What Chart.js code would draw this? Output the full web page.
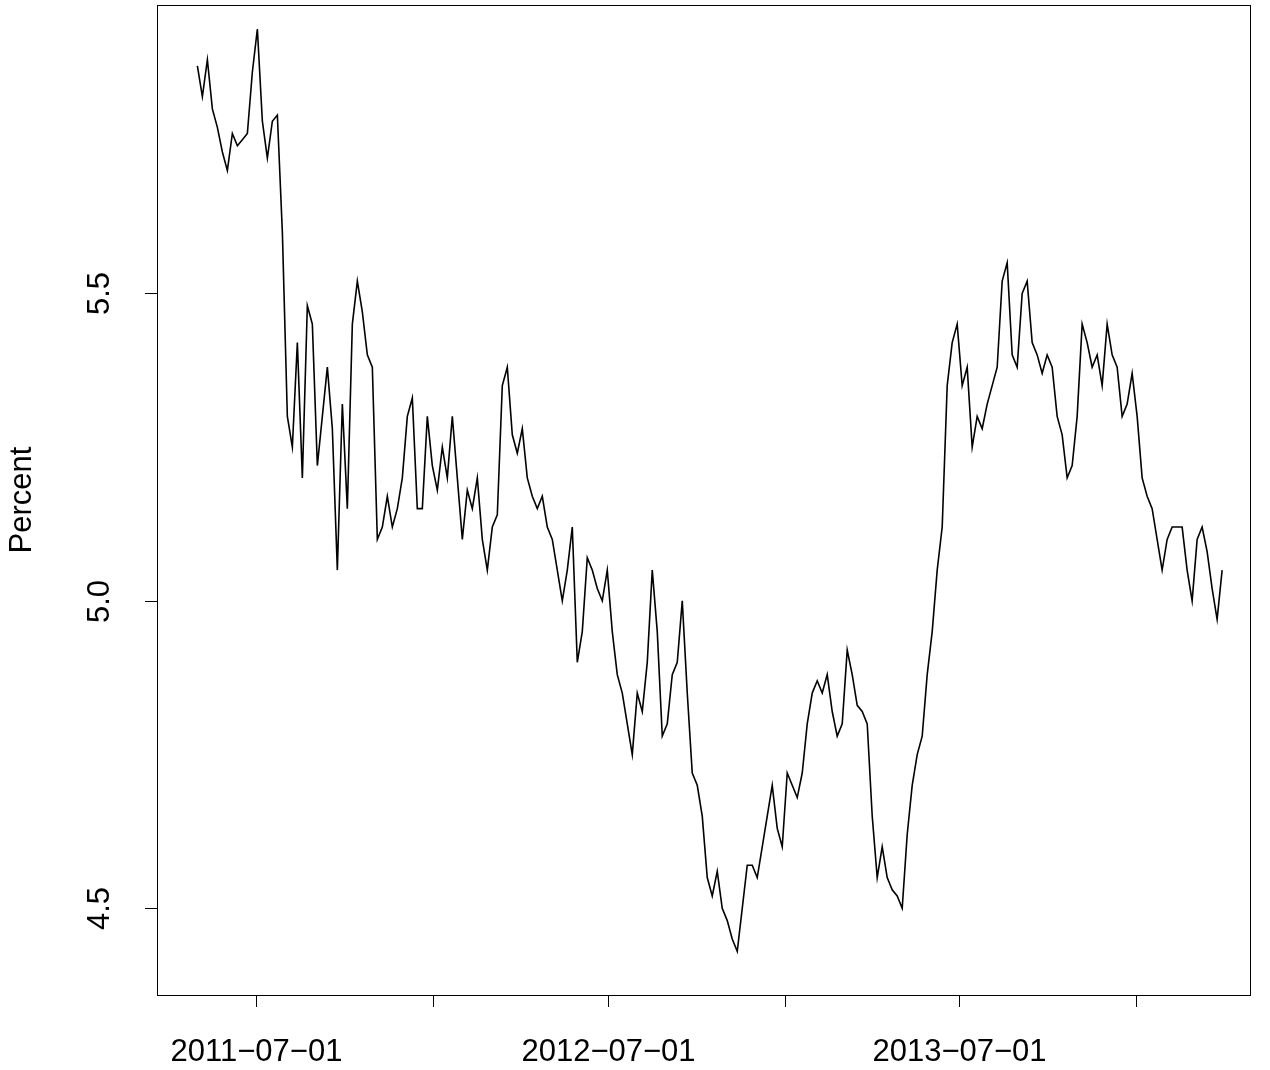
<!DOCTYPE html>
<html><head><meta charset="utf-8">
<script src="https://cdn.jsdelivr.net/npm/chart.js@4"></script>
<style>body{margin:0;background:#fff}#wrap{width:1270px;height:1070px}</style>
</head><body><div id="wrap"><canvas id="c"></canvas></div>
<script>
// days relative to 2011-07-01; first observation and spacing
const startDay = -61;
const stepDays = 5.2;
const values = [5.87,5.82,5.88,5.80,5.77,5.73,5.70,5.76,5.74,5.75,5.76,5.86,5.93,5.78,5.72,5.78,5.79,5.60,5.30,5.25,
5.42,5.20,5.48,5.45,5.22,5.30,5.38,5.28,5.05,5.32,5.15,5.45,5.52,5.47,5.40,5.38,5.10,5.12,5.17,5.12,
5.15,5.20,5.30,5.33,5.15,5.15,5.30,5.22,5.18,5.25,5.20,5.30,5.20,5.10,5.18,5.15,5.20,5.10,5.05,5.12,
5.14,5.35,5.38,5.27,5.24,5.28,5.20,5.17,5.15,5.17,5.12,5.10,5.05,5.00,5.05,5.12,4.90,4.95,5.07,5.05,
5.02,5.00,5.05,4.95,4.88,4.85,4.80,4.75,4.85,4.82,4.90,5.05,4.95,4.78,4.80,4.88,4.90,5.00,4.85,4.72,
4.70,4.65,4.55,4.52,4.56,4.50,4.48,4.45,4.43,4.50,4.57,4.57,4.55,4.60,4.65,4.70,4.63,4.60,4.72,4.70,
4.68,4.72,4.80,4.85,4.87,4.85,4.88,4.82,4.78,4.80,4.92,4.88,4.83,4.82,4.80,4.65,4.55,4.60,4.55,4.53,
4.52,4.50,4.62,4.70,4.75,4.78,4.88,4.95,5.05,5.12,5.35,5.42,5.45,5.35,5.38,5.25,5.30,5.28,5.32,5.35,
5.38,5.52,5.55,5.40,5.38,5.50,5.52,5.42,5.40,5.37,5.40,5.38,5.30,5.27,5.20,5.22,5.30,5.45,5.42,5.38,
5.40,5.35,5.45,5.40,5.38,5.30,5.32,5.37,5.30,5.20,5.17,5.15,5.10,5.05,5.10,5.12,5.12,5.12,5.05,5.00,
5.10,5.12,5.08,5.02,4.97,5.05];
const xTicks = [0, 184, 366, 550, 731, 915];
const xTickLabels = ['2011\u221207\u221201', '', '2012\u221207\u221201', '', '2013\u221207\u221201', ''];
const yTicks = [4.5, 5.0, 5.5];
const yLabel = 'Percent';

const points = values.map((v, i) => ({x: startDay + i * stepDays, y: v}));

const axes = {
  id: 'axes',
  afterDraw(chart) {
    const {ctx, chartArea: a, scales: {x, y}} = chart;
    ctx.save();
    ctx.strokeStyle = '#000'; ctx.lineWidth = 1; ctx.fillStyle = '#000';
    ctx.strokeRect(a.left + 0.5, a.top + 0.5, a.right - a.left, a.bottom - a.top);
    ctx.font = '31px "Liberation Sans", Arial, sans-serif';
    ctx.textAlign = 'center'; ctx.textBaseline = 'middle';
    xTicks.forEach((t, i) => {
      const px = Math.round(x.getPixelForValue(t)) + 0.5;
      ctx.beginPath(); ctx.moveTo(px, a.bottom); ctx.lineTo(px, a.bottom + 12); ctx.stroke();
      if (xTickLabels[i]) ctx.fillText(xTickLabels[i], px, a.bottom + 57);
    });
    yTicks.forEach(t => {
      const py = Math.round(y.getPixelForValue(t)) + 0.5;
      ctx.beginPath(); ctx.moveTo(a.left, py); ctx.lineTo(a.left - 12, py); ctx.stroke();
      ctx.save(); ctx.translate(a.left - 57, py); ctx.rotate(-Math.PI / 2);
      ctx.fillText(t.toFixed(1), 0, 0); ctx.restore();
    });
    ctx.save(); ctx.translate(22, (a.top + a.bottom) / 2); ctx.rotate(-Math.PI / 2);
    ctx.fillText(yLabel, 0, 0); ctx.restore();
    ctx.restore();
  }
};

new Chart(document.getElementById('c'), {
  type: 'line',
  data: {datasets: [{data: points, borderColor: '#000', borderWidth: 1.6, pointRadius: 0, tension: 0}]},
  options: {
    responsive: true, maintainAspectRatio: false, animation: false,
    layout: {padding: {left: 157, right: 20, top: 5, bottom: 75}},
    plugins: {legend: {display: false}, tooltip: {enabled: false}},
    scales: {
      x: {type: 'linear', min: -103, max: 1034, display: false},
      y: {min: 4.359, max: 5.969, display: false}
    }
  },
  plugins: [axes]
});
</script></body></html>
